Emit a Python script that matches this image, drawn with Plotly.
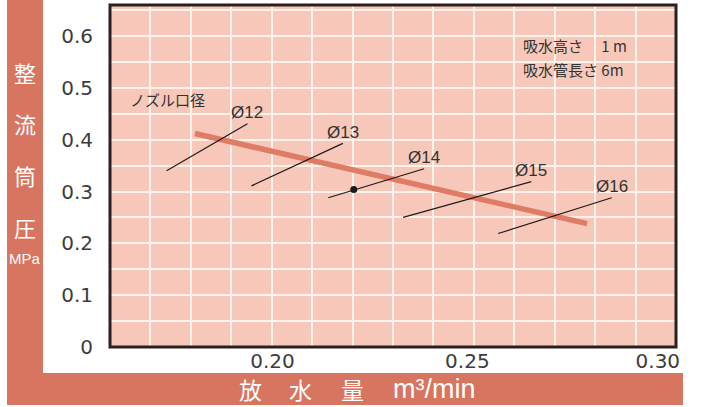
import plotly.graph_objects as go

# ---- data ----
curve_x = [0.181, 0.278]
curve_y = [0.412, 0.238]

nozzle_labels = ["Ø12", "Ø13", "Ø14", "Ø15", "Ø16"]
nozzle_x_start = [0.174, 0.195, 0.214, 0.2325, 0.256]
nozzle_y_start = [0.340, 0.311, 0.288, 0.250, 0.219]
nozzle_x_end = [0.194, 0.2176, 0.2377, 0.2642, 0.2841]
nozzle_y_end = [0.431, 0.393, 0.344, 0.319, 0.288]

point_x = [0.2203]
point_y = [0.304]

# x tick labels sit slightly left of their gridlines in the original artwork
x_tickvals = [0.2002, 0.2484, 0.2955]
x_ticktext = ["0.20", "0.25", "0.30"]
y_tickvals = [0, 0.1, 0.2, 0.3, 0.4, 0.5, 0.6]
y_ticktext = ["0", "0.1", "0.2", "0.3", "0.4", "0.5", "0.6"]

y_title_chars = ["整", "流", "筒", "圧"]
y_unit = "MPa"
x_title_chars = ["放", "水", "量"]
x_unit = "m³/min"
note_label = "ノズル口径"
cond_lines = ["吸水高さ\u3000 1 m", "吸水管長さ 6m"]

# ---- style ----
W, H = 706, 407
ML, MR, MT, MB = 110, 30, 5, 60
PW, PH = W - ML - MR, H - MT - MB
BAND = "#D87561"
PLOTBG = "#F7C8B9"
GRID = "#FFF3EC"
CJK = "Noto Sans CJK JP"
LAT = "Liberation Sans"
TICKFONT = "DejaVu Sans"


def px2paper_x(px):
    return (px - ML) / PW


def py2paper_y(py):
    return (H - MB - py) / PH


fig = go.Figure()

fig.add_trace(go.Scatter(x=curve_x, y=curve_y, mode="lines",
                         line=dict(color="#DE7C66", width=5.5), hoverinfo="skip"))
for xs, ys, xe, ye in zip(nozzle_x_start, nozzle_y_start, nozzle_x_end, nozzle_y_end):
    fig.add_trace(go.Scatter(x=[xs, xe], y=[ys, ye], mode="lines",
                             line=dict(color="#1a1a1a", width=1.2), hoverinfo="skip"))
fig.add_trace(go.Scatter(x=point_x, y=point_y, mode="markers",
                         marker=dict(color="#1a1a1a", size=7), hoverinfo="skip"))

annotations = []
for lab, xe, ye in zip(nozzle_labels, nozzle_x_end, nozzle_y_end):
    annotations.append(dict(x=xe, y=ye, xref="x", yref="y", text=lab, showarrow=False,
                            xanchor="center", yanchor="middle",
                            yshift=11, font=dict(family=LAT, size=17, color="#333333")))

annotations.append(dict(x=0.1741, y=0.477, xref="x", yref="y", text=note_label,
                        xanchor="center", yanchor="middle",
                        showarrow=False, font=dict(family=CJK, size=15, color="#333333")))
for i, t in enumerate(cond_lines):
    annotations.append(dict(x=px2paper_x(521), y=py2paper_y(45 + 25 * i), xref="paper", yref="paper",
                            text=t, showarrow=False, xanchor="left", yanchor="middle",
                            font=dict(family=CJK, size=15, color="#333333")))

# vertical y title in left band
y_pos = [72, 123, 175, 227]
for ch, py in zip(y_title_chars, y_pos):
    annotations.append(dict(x=px2paper_x(25), y=py2paper_y(py), xref="paper", yref="paper",
                            text=ch, showarrow=False, xanchor="center", yanchor="middle",
                            font=dict(family=CJK, size=22, color="white")))
annotations.append(dict(x=px2paper_x(25), y=py2paper_y(258), xref="paper", yref="paper",
                        text=y_unit, showarrow=False, xanchor="center", yanchor="middle",
                        font=dict(family=LAT, size=15, color="white")))

# x title in bottom band
x_pos = [250, 300, 352]
for ch, px in zip(x_title_chars, x_pos):
    annotations.append(dict(x=px2paper_x(px), y=py2paper_y(389), xref="paper", yref="paper",
                            text=ch, showarrow=False, xanchor="center", yanchor="middle",
                            font=dict(family=CJK, size=23, color="white")))
annotations.append(dict(x=px2paper_x(391), y=py2paper_y(389), xref="paper", yref="paper",
                        text=x_unit, showarrow=False, xanchor="left", yanchor="middle",
                        font=dict(family=LAT, size=27, color="white")))

shapes = [
    # left band
    dict(type="rect", xref="paper", yref="paper",
         x0=px2paper_x(7), x1=px2paper_x(43), y0=py2paper_y(405), y1=py2paper_y(0),
         fillcolor=BAND, line=dict(width=0), layer="above"),
    # bottom band
    dict(type="rect", xref="paper", yref="paper",
         x0=px2paper_x(7), x1=px2paper_x(683), y0=py2paper_y(405), y1=py2paper_y(373),
         fillcolor=BAND, line=dict(width=0), layer="above"),
    # plot border
    dict(type="rect", xref="paper", yref="paper", x0=0, x1=1, y0=0, y1=1,
         line=dict(color="#2a2020", width=3), layer="above"),
]

fig.update_layout(
    width=W, height=H,
    margin=dict(l=ML, r=MR, t=MT, b=MB, autoexpand=False),
    paper_bgcolor="white", plot_bgcolor=PLOTBG,
    showlegend=False,
    annotations=annotations, shapes=shapes,
    xaxis=dict(range=[0.16, 0.30], tickmode="array", tickvals=x_tickvals, ticktext=x_ticktext,
               showgrid=False, zeroline=False, showline=False,
               ticks="", automargin=False,
               tickfont=dict(family=TICKFONT, size=20, color="#3c3c3c"),
               minor=dict(tickmode="linear", tick0=0.16, dtick=0.01, showgrid=True,
                          gridcolor=GRID, gridwidth=1.5),
               fixedrange=True),
    yaxis=dict(range=[0, 0.66], tickmode="array", tickvals=y_tickvals, ticktext=y_ticktext,
               showgrid=True, gridcolor=GRID, gridwidth=1.5, zeroline=False, showline=False,
               ticks="outside", ticklen=12, tickcolor="rgba(0,0,0,0)", automargin=False,
               tickfont=dict(family=TICKFONT, size=20, color="#3c3c3c"),
               minor=dict(tickmode="linear", tick0=0, dtick=0.05, showgrid=True,
                          gridcolor=GRID, gridwidth=1.5),
               fixedrange=True),
)

fig.write_html("out.html", config={"displayModeBar": False},
               post_script="document.body.style.margin='0';document.body.style.overflow='hidden';")
